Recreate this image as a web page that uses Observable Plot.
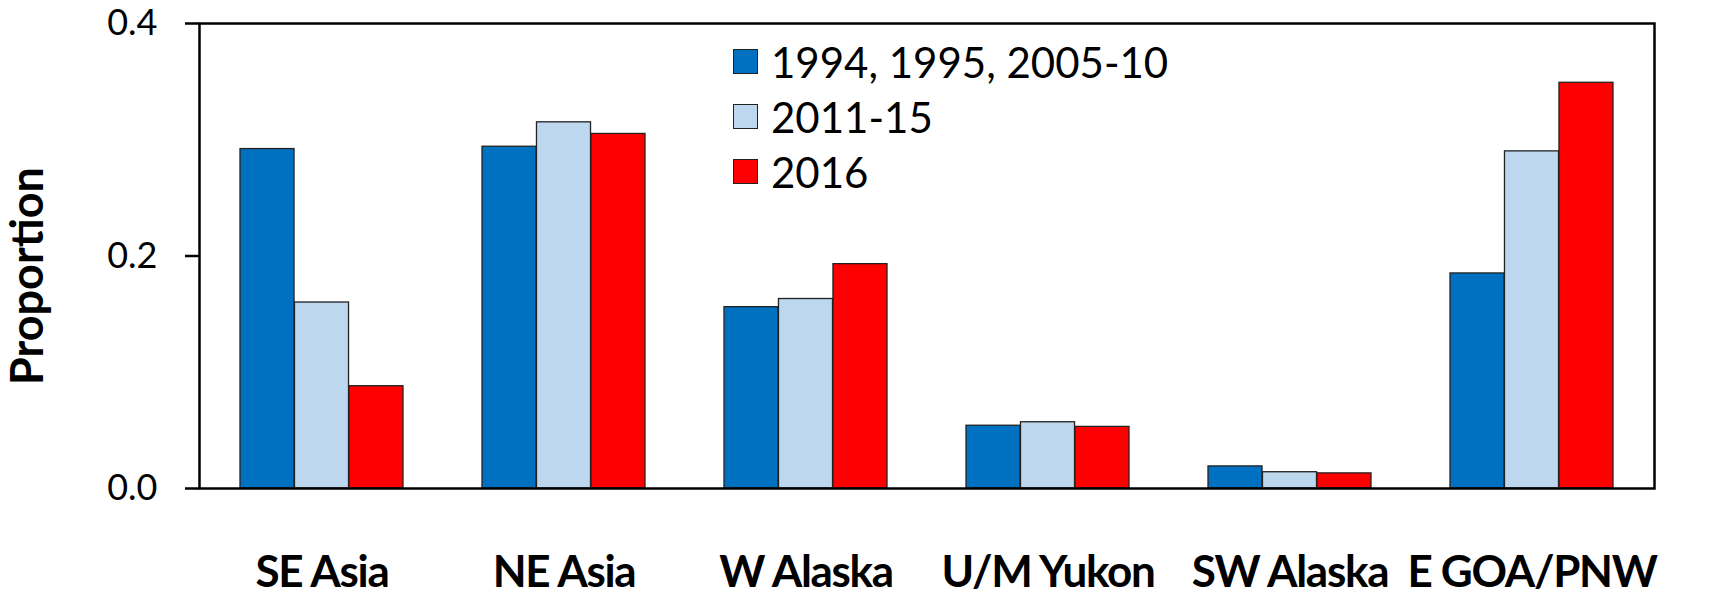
<!DOCTYPE html>
<html>
<head>
<meta charset="utf-8">
<script src="https://cdn.jsdelivr.net/npm/d3@7"></script>
<script src="https://cdn.jsdelivr.net/npm/@observablehq/plot@0.6"></script>
<style>
  html, body { margin: 0; padding: 0; background: #fff; }
  #wrap { position: relative; width: 1713px; height: 599px; font-family: Lato, "Open Sans", sans-serif; }
  #legend { position: absolute; left: 733px; top: 34px; }
  .row { display: flex; align-items: center; height: 55px; }
  .sw { width: 23px; height: 23px; border: 1.3px solid #222; margin-right: 13px; box-sizing: content-box; }
  .lab { font-size: 42px; color: #000; line-height: 1; }
  g[aria-label="x-axis tick label"] text { letter-spacing: -1.3px; }
</style>
</head>
<body>
<div id="wrap"><div id="chart"></div><div id="legend"></div></div>
<script>
const categories = ["SE Asia", "NE Asia", "W Alaska", "U/M Yukon", "SW Alaska", "E GOA/PNW"];
const seriesNames = ["1994, 1995, 2005-10", "2011-15", "2016"];
const values1994 = [0.292, 0.294, 0.156, 0.054, 0.019, 0.185];
const values2011 = [0.160, 0.315, 0.163, 0.057, 0.014, 0.290];
const values2016 = [0.088, 0.305, 0.193, 0.053, 0.013, 0.349];
const seriesColors = ["#0070C0", "#BDD7EE", "#FF0000"];
const yTicks = [0, 0.2, 0.4];
const yLabel = "Proportion";

const seriesValues = [values1994, values2011, values2016];
const data = categories.flatMap((c, i) =>
  seriesNames.map((s, j) => ({category: c, series: s, value: seriesValues[j][i]})));

const W = 1713, H = 599, mL = 199, mR = 59, mT = 23, mB = 111;
const padIn = 0.326, padOut = 0.163;
const step = (W - mL - mR) / (categories.length - padIn + 2 * padOut);
const bw = step * (1 - padIn);
const third = bw / seriesNames.length;

const barMarks = seriesNames.map((s, j) =>
  Plot.barY(data.filter(d => d.series === s), {
    x: "category", y: "value", fill: "series",
    stroke: "#222", strokeWidth: 1.3,
    insetLeft: j * third, insetRight: (seriesNames.length - 1 - j) * third
  }));

const plot = Plot.plot({
  width: W, height: H,
  marginLeft: mL, marginRight: mR, marginTop: mT, marginBottom: mB,
  style: {fontFamily: "Lato, 'Open Sans', sans-serif", fontSize: "36px", background: "#fff", color: "#000"},
  x: {domain: categories, paddingInner: padIn, paddingOuter: padOut, label: null},
  y: {domain: [0, 0.4], label: null},
  color: {domain: seriesNames, range: seriesColors},
  marks: [
    ...barMarks,
    Plot.frame({stroke: "#000", strokeWidth: 2.5}),
    Plot.axisY({ticks: yTicks, tickFormat: d3.format(".1f"), tickSize: 14, tickPadding: 28, strokeWidth: 2.5, fontSize: 36, label: null}),
    Plot.axisX({tickSize: 0, tickPadding: 67, fontSize: 44, fontWeight: "bold", label: null}),
    Plot.text([yLabel], {text: d => d, frameAnchor: "left", textAnchor: "middle", lineAnchor: "middle", rotate: -90, dx: -171, dy: 20, fontSize: 45, fontWeight: "bold", fill: "#000"})
  ]
});
document.getElementById("chart").appendChild(plot);

const legend = document.getElementById("legend");
seriesNames.forEach((s, j) => {
  const row = document.createElement("div");
  row.className = "row";
  const sw = document.createElement("div");
  sw.className = "sw";
  sw.style.background = seriesColors[j];
  const lab = document.createElement("span");
  lab.className = "lab";
  lab.textContent = s;
  row.appendChild(sw); row.appendChild(lab);
  legend.appendChild(row);
});
</script>
</body>
</html>
